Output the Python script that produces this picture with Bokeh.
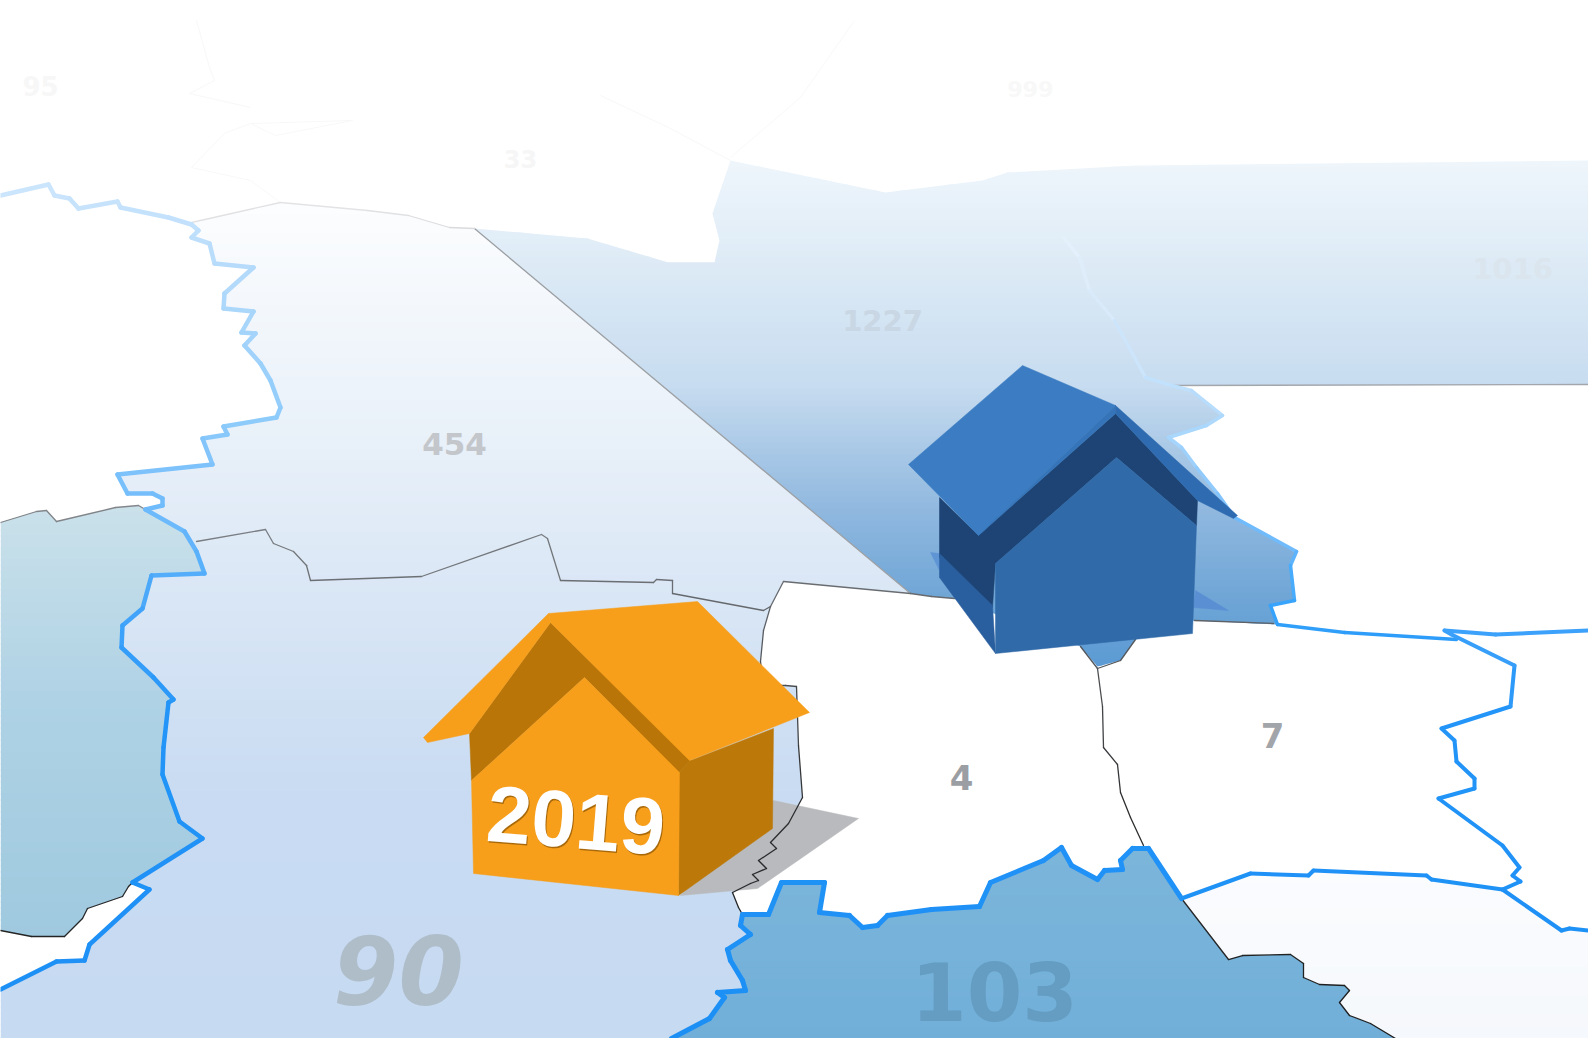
from bokeh.plotting import figure
from bokeh.models import Range1d
from bokeh.core.properties import value
from bokeh.embed import file_html
from bokeh.resources import INLINE

# ---- map outlines (reference pixel coordinates) ----
BORDER_WEST = [(0,195),(48,184),(54,195),(69,198),(78,208),(117,201),(120,207),(168,217),(191,224),(198,230),(191,237),(209,243),(214,263),(253,267),(224,293),(223,308),(253,311),(241,332),(255,333),(244,345),(260,363),(270,380),(280,407),(276,417),(223,426),(227,434),(202,438),(212,464),(117,474),(127,493),(152,493),(162,498),(162,505),(145,509),(184,531),(196,551),(204,573),(151,575),(142,608),(122,625),(121,647),(153,677),(173,699),(168,702),(163,747),(162,774),(179,821),(202,838),(132,882),(149,889),(89,944),(84,960),(56,961),(0,989)]
BORDER_SOUTH = [(671,1038),(709,1018),(724,997),(717,992),(745,990),(742,980),(730,960),(727,949),(750,934),(740,925),(742,914),(768,914),(781,882),(824,882),(819,912),(849,915),(862,927),(877,925),(887,915),(931,909),(979,906),(990,882),(1043,860),(1061,847),(1071,865),(1097,879),(1104,870),(1122,869),(1120,860),(1132,848),(1148,848),(1181,898)]
BORDER_EAST = [(1181,898),(1250,873),(1308,875),(1313,870),(1426,875),(1431,879),(1502,889),(1520,881),(1512,875),(1519,867),(1502,845),(1438,798),(1474,788),(1474,778),(1456,761),(1454,740),(1441,728),(1510,706),(1514,665),(1451,634),(1444,630),(1495,634),(1588,630)]
BORDER_EAST2 = [(1502,889),(1561,930),(1569,928),(1588,930)]
BORDER_NORTH = [(1063,237),(1079,257),(1089,290),(1114,320),(1145,377),(1171,385),(1191,390),(1222,415),(1206,425),(1168,437),(1181,447),(1196,467),(1217,493),(1234,517),(1296,551),(1290,565),(1294,600),(1270,605),(1277,624),(1344,632),(1456,639)]

THIN_DIAGONAL = [(474,228),(910,593)]
THIN_TOP_454 = [(191,222),(280,202),(367,210),(408,215),(449,227),(474,228)]
THIN_90_454 = [(196,541),(265,529),(273,543),(293,551),(306,565),(310,580),(421,576),(541,534),(547,538),(560,580),(653,582),(656,579),(672,580),(672,593),(763,610),(770,606)]
THIN_REGION4_TOP = [(770,606),(783,581),(910,593),(931,596),(954,598)]
THIN_REGION4_LEFT = [(770,606),(763,630),(760,661),(763,685),(785,685),(796,686),(798,745),(802,797),(788,823),(770,842),(776,848),(758,860),(766,868),(752,874),(758,880),(750,883),(732,892),(738,907),(742,914)]
THIN_4_7 = [(1080,646),(1097,668),(1102,706),(1103,747),(1117,764),(1120,792),(1130,817),(1143,845)]
THIN_SPUR = [(1097,668),(1120,660),(1135,639)]
THIN_7_TOP = [(1194,620),(1273,623)]
THIN_103 = [(1181,898),(1228,959),(1242,955),(1290,954),(1303,963),(1303,977),(1319,984),(1344,985),(1349,990),(1339,1002),(1349,1015),(1370,1023),(1395,1038)]
THIN_LAKE = [(132,882),(128,886),(122,896),(87,908),(82,918),(64,936),(31,936),(0,930)]
THIN_LAKE_TOP = [(0,522),(36,511),(46,510),(56,521),(115,507),(138,505),(145,509)]
THIN_1016 = [(1171,385),(1588,384)]

FAINT_LINES = [
    [(191,167),(224,133),(250,123),(352,120),(275,135),(250,123)],
    [(191,167),(250,180),(280,202)],
    [(196,20),(209,67),(214,80),(189,93),(250,107)],
    [(730,160),(668,127),(600,95)],
    [(730,157),(800,97),(854,20)],
]

REGION_1227 = [(730,160),(788,172),(885,192),(982,180),(1007,172),(1135,165),(1588,160),(1588,384),(1171,385),(1191,390),(1222,415),(1206,425),(1168,437),(1181,447),(1196,467),(1217,493),(1234,517),(1296,551),(1290,565),(1294,600),(1270,605),(1277,624),(1194,620),(1135,639),(1120,660),(1097,666),(1080,646),(954,598),(931,596),(910,593),(474,228),(587,238),(668,262),(714,262),(719,240),(712,213)]
REGION_90 = THIN_TOP_454[:-1] + [(474,228),(910,593),(783,581),(770,606),(763,630),(760,661),(763,685),(785,685),(796,686),(798,745),(802,797),(788,823),(770,842),(750,883),(732,892),(738,907)] + BORDER_SOUTH[:11][::-1] + [(0,1038)] + BORDER_WEST[::-1][:46]
REGION_LAKE = THIN_LAKE_TOP + BORDER_WEST[34:49] + THIN_LAKE[1:]
REGION_103 = BORDER_SOUTH + THIN_103[1:]
REGION_SE = BORDER_EAST[:7] + BORDER_EAST2[1:] + [(1588,1038)] + THIN_103[::-1][:-1]

SHADOW = [(773,800),(858,818),(757,888),(680,895)]

HOUSE_ORANGE_FRONT = [(471,780),(584,677),(679,772),(678,895),(473,873)]
HOUSE_ORANGE_SIDE = [(678,772),(690,760),(773,728),(772,828),(678,895)]
HOUSE_ORANGE_UNDER = [(469,733),(550,622),(690,760),(678,772),(584,677),(471,780)]
HOUSE_ORANGE_ROOF = [(548,613),(697,601),(809,712),(689,760),(550,622)]
HOUSE_ORANGE_EAVE = [(423,737),(548,613),(550,622),(469,733),(427,742)]

HOUSE_BLUE_UNDER = [(939,497),(978,535),(1115,413),(1197,500),(1196,525),(1116,457),(995,563),(992,607),(939,557)]
HOUSE_BLUE_LOWER = [(939,553),(992,605),(995,653),(939,577)]
HOUSE_BLUE_FRONT = [(995,563),(1116,457),(1196,525),(1192,633),(995,653)]
HOUSE_BLUE_ROOF = [(1022,365),(1115,405),(978,535),(908,464)]
HOUSE_BLUE_STRIP = [(978,535),(1115,405),(1115,413)]
HOUSE_BLUE_EAVE = [(1115,405),(1237,515),(1233,518),(1197,500),(1115,413)]
HOUSE_BLUE_ACCENT_L = [(930,552),(939,553),(939,570)]
HOUSE_BLUE_ACCENT_R = [(1195,590),(1228,610),(1193,607)]

# ---- labels ----
LABELS = ["454", "4", "7", "1227", "1016", "33", "95", "999"]
LABEL_X = [454, 961, 1272, 882, 1512, 520, 40, 1030]
LABEL_Y = [443, 777, 735, 320, 268, 158, 85, 88]
LABEL_SIZE = ["31px", "34px", "34px", "29px", "29px", "24px", "26px", "22px"]
LABEL_COLOR = ["#c3c6ca", "#9b9ea3", "#a2a5a9", "#c9d6e3", "#dae5ee", "#f6f6f6", "#f7f7f7", "#f8f8f8"]

GRAD_90 = [(205,"#fcfdfe"),(443,"#e8f0f9"),(600,"#d9e6f5"),(800,"#c8dbf2"),(1038,"#c6daf2")]
GRAD_LAKE = [(505,"#cae1ea"),(700,"#afd2e5"),(936,"#9fc9df")]
GRAD_1227 = [(160,"#eff6fc"),(260,"#deebf6"),(385,"#c7dcf0"),(450,"#a9c8e6"),(520,"#8cb6de"),(600,"#6ea5d6"),(670,"#5a9ad4")]
GRAD_103 = [(847,"#7cb5da"),(1038,"#71afd9")]
GRAD_SE = [(860,"#fbfcfe"),(1038,"#f5f8fc")]
GRAD_BLUE = [(180,"#cde6fc"),(300,"#aed8fb"),(420,"#8ecbfb"),(520,"#6cb9fb"),(620,"#3fa3fa"),(720,"#2395f8"),(1038,"#1c8ff5")]
GRAD_NORTH = [(237,"#e6f1fb"),(330,"#d4e8fb"),(385,"#bfe0fc"),(440,"#a6d5fc"),(520,"#7cc0fc"),(600,"#3aa5fb"),(640,"#2c9cfa")]
GRAD_THIN = [(200,"#e6e6e8"),(300,"#b9bcc0"),(500,"#85898e"),(650,"#55585c"),(800,"#2e2f31"),(1038,"#1c1c1c")]


def hex2rgb(c):
    return tuple(int(c[i:i + 2], 16) for i in (1, 3, 5))


def grad(stops, y):
    if y <= stops[0][0]:
        return stops[0][1]
    for (y0, c0), (y1, c1) in zip(stops, stops[1:]):
        if y <= y1:
            t = (y - y0) / (y1 - y0)
            a, b = hex2rgb(c0), hex2rgb(c1)
            return "#%02x%02x%02x" % tuple(round(a[i] + (b[i] - a[i]) * t) for i in range(3))
    return stops[-1][1]


def clip(pts, y, keep_below):
    out = []
    n = len(pts)
    inside = (lambda p: p[1] >= y) if keep_below else (lambda p: p[1] <= y)
    for i in range(n):
        a, b = pts[i], pts[(i + 1) % n]
        if inside(a):
            out.append(a)
        if inside(a) != inside(b):
            t = (y - a[1]) / (b[1] - a[1])
            out.append((a[0] + (b[0] - a[0]) * t, y))
    return out


p = figure(width=1588, height=1038, x_range=Range1d(0, 1588), y_range=Range1d(1038, 0),
           x_axis_type=None, y_axis_type=None, toolbar_location=None, output_backend="svg",
           min_border=0, outline_line_color=None, background_fill_color="white")
p.grid.visible = False


def gradient_patch(pts, stops, step=6):
    ys = [q[1] for q in pts]
    xs_out, ys_out, cols = [], [], []
    y = min(ys)
    while y < max(ys):
        band = clip(clip(pts, y, True), y + step + 1, False)
        if len(band) >= 3:
            xs_out.append([q[0] for q in band])
            ys_out.append([q[1] for q in band])
            cols.append(grad(stops, y + step / 2))
        y += step
    p.patches(xs_out, ys_out, fill_color=cols, line_color=None)


def solid(pts, color):
    p.patch([q[0] for q in pts], [q[1] for q in pts], fill_color=color, line_color=color, line_width=0.5)


def border(pts, stops, width):
    xs, ys, cols = [], [], []
    for a, b in zip(pts, pts[1:]):
        xs.append([a[0], b[0]])
        ys.append([a[1], b[1]])
        cols.append(grad(stops, (a[1] + b[1]) / 2))
    p.multi_line(xs, ys, line_color=cols, line_width=width, line_cap="round", line_join="round")


gradient_patch(REGION_1227, GRAD_1227)
gradient_patch(REGION_90, GRAD_90)
gradient_patch(REGION_LAKE, GRAD_LAKE)
gradient_patch(REGION_103, GRAD_103)
gradient_patch(REGION_SE, GRAD_SE)

solid(SHADOW, "#b8babd")

for line in FAINT_LINES:
    p.line([q[0] for q in line], [q[1] for q in line], line_color="#f8f8f8", line_width=1)

for line in [THIN_DIAGONAL, THIN_TOP_454, THIN_90_454, THIN_REGION4_TOP, THIN_REGION4_LEFT,
             THIN_4_7, THIN_SPUR, THIN_7_TOP, THIN_103, THIN_LAKE, THIN_LAKE_TOP, THIN_1016]:
    border(line, GRAD_THIN, 1.3)

border(BORDER_NORTH, GRAD_NORTH, 3.5)
border(BORDER_WEST, GRAD_BLUE, 4.5)
border(BORDER_SOUTH, GRAD_BLUE, 5)
border(BORDER_EAST, GRAD_BLUE, 4)
border(BORDER_EAST2, GRAD_BLUE, 4)

p.text(x=LABEL_X, y=LABEL_Y, text=LABELS, text_font=value("DejaVu Sans"), text_font_style="bold",
       text_font_size=LABEL_SIZE, text_color=LABEL_COLOR, text_align="center", text_baseline="middle")
p.text(x=[398], y=[970], text=["90"], text_font=value("DejaVu Sans"), text_font_style="bold italic",
       text_font_size="94px", text_color="#afbdc9", text_align="center", text_baseline="middle")
p.text(x=[994], y=[991], text=["103"], text_font=value("DejaVu Sans"), text_font_style="bold",
       text_font_size="80px", text_color="#649cc2", text_align="center", text_baseline="middle")

solid(HOUSE_ORANGE_UNDER, "#b97507")
solid(HOUSE_ORANGE_SIDE, "#bc7809")
solid(HOUSE_ORANGE_FRONT, "#f79e1b")
solid(HOUSE_ORANGE_ROOF, "#f79e1b")
solid(HOUSE_ORANGE_EAVE, "#f79e1b")

solid(HOUSE_BLUE_ACCENT_L, "#5f95d4")
solid(HOUSE_BLUE_ACCENT_R, "#5b8fd4")
solid(HOUSE_BLUE_UNDER, "#1d4474")
solid(HOUSE_BLUE_LOWER, "#2a5f9f")
solid(HOUSE_BLUE_FRONT, "#316aa8")
solid(HOUSE_BLUE_ROOF, "#3b7cc2")
solid(HOUSE_BLUE_STRIP, "#3574b8")
solid(HOUSE_BLUE_EAVE, "#2f6bb0")

p.text(x=[576.5], y=[821.5], text=["2019"], text_font=value("Liberation Sans"), text_font_style="bold",
       text_font_size="80px", text_color="#a8690b", text_align="center", text_baseline="middle", angle=-0.08)
p.text(x=[575.5], y=[820], text=["2019"], text_font=value("Liberation Sans"), text_font_style="bold",
       text_font_size="80px", text_color="#ffffff", text_align="center", text_baseline="middle", angle=-0.08)

open("out.html", "w").write(file_html(p, INLINE))
